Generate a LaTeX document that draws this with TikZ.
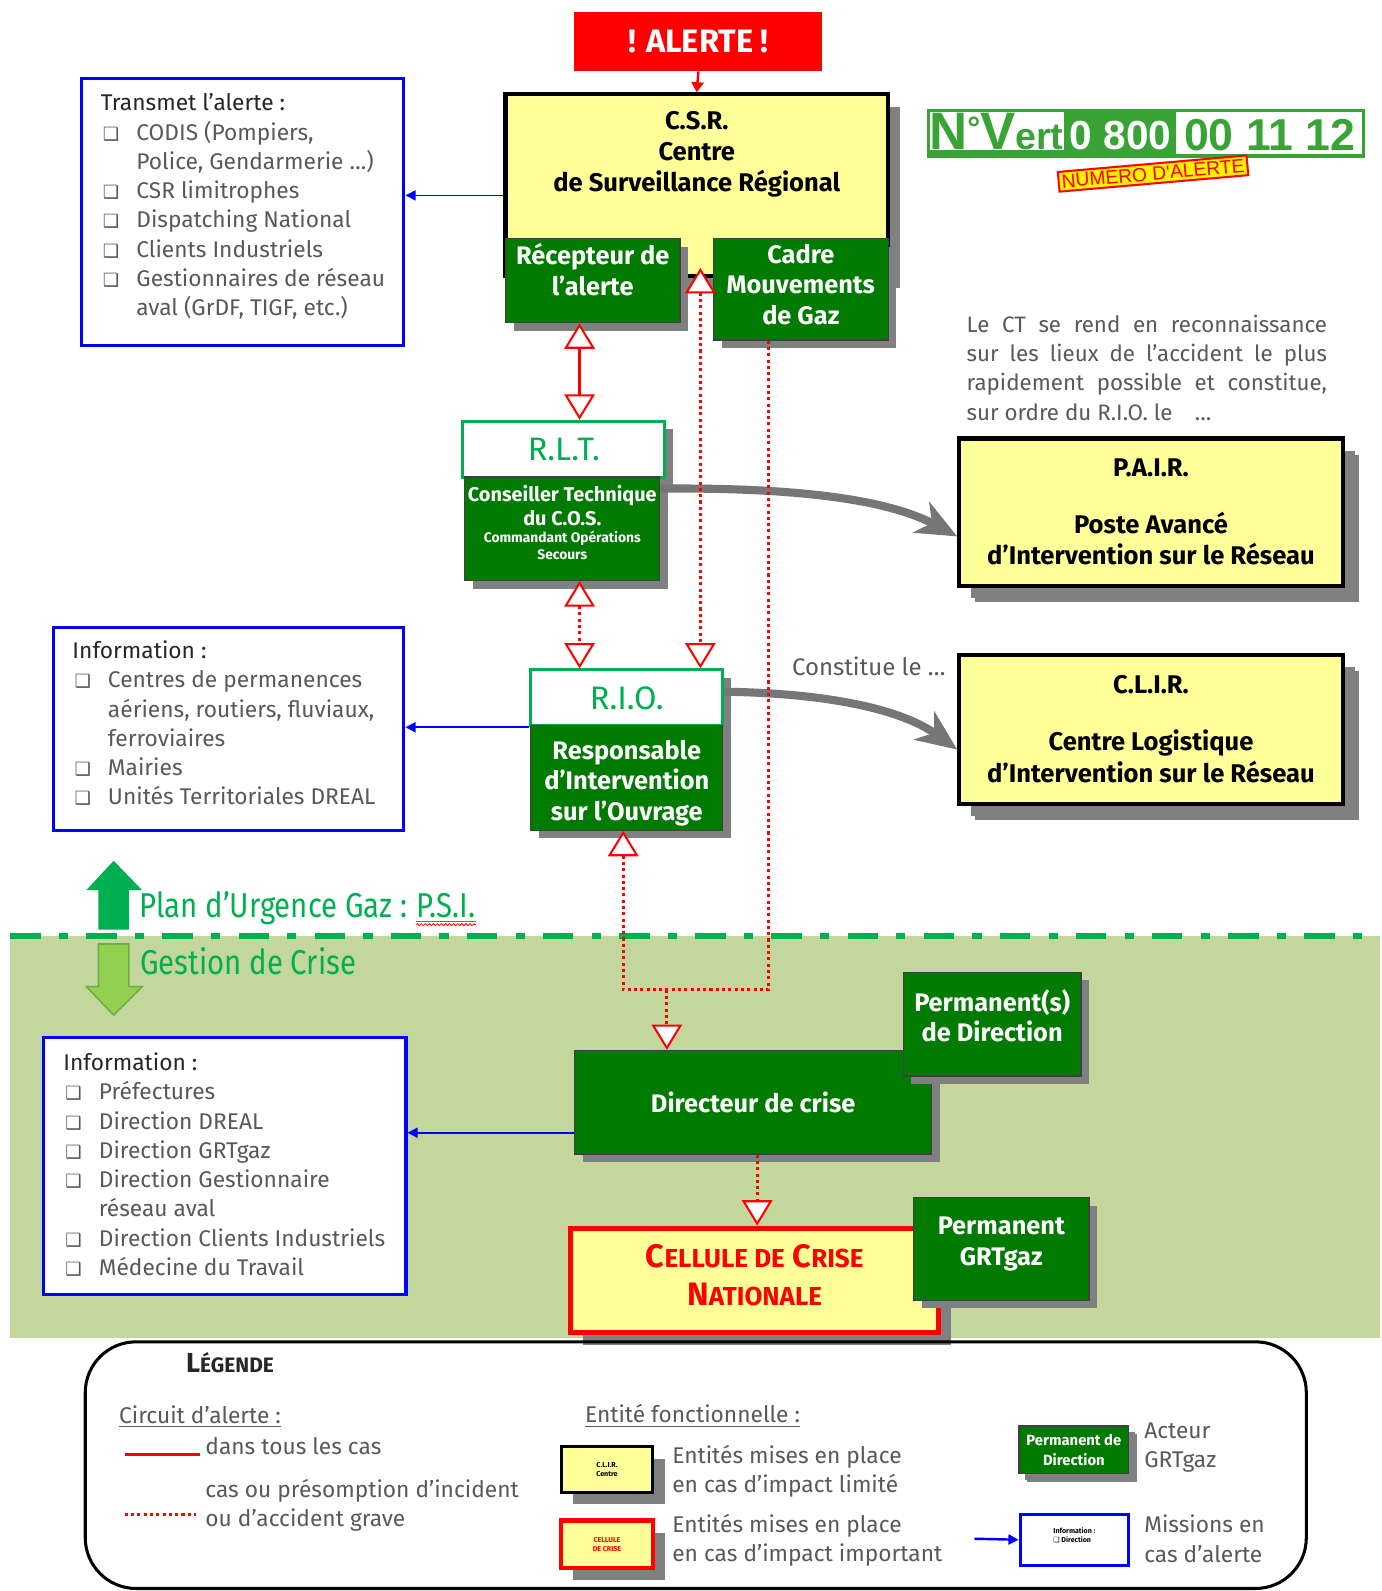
\documentclass[tikz,border=0pt]{standalone}
\usepackage{fontspec}
\setmainfont{Fira Sans}
\newfontfamily\vertfont{Liberation Sans}
\newfontfamily\symfont{DejaVu Sans}
\newfontfamily\condfont{Fira Sans}[FakeStretch=0.85]
\usetikzlibrary{arrows.meta,shadows,decorations.pathmorphing}

\definecolor{alertred}{RGB}{255,0,0}
\definecolor{boxyellow}{RGB}{255,255,153}
\definecolor{grgreen}{RGB}{0,122,0}
\definecolor{rltgreen}{RGB}{0,176,80}
\definecolor{bandgreen}{RGB}{195,214,155}
\definecolor{lightarrow}{RGB}{146,208,80}
\definecolor{lightborder}{RGB}{112,173,71}
\definecolor{shadowgray}{RGB}{128,128,128}
\definecolor{arrowgray}{RGB}{118,118,118}
\definecolor{textgray}{RGB}{89,89,89}
\definecolor{titlegray}{RGB}{38,38,38}
\definecolor{vertgreen}{RGB}{58,163,53}
\definecolor{infoblue}{RGB}{0,0,255}

\newcommand{\bul}{\makebox[17.5pt][l]{\hspace{1pt}{\symfont\fontsize{9}{9}\selectfont ❑}}}
\newcommand{\ind}{\hspace*{17.5pt}}
\newcommand{\petitcap}[3]{#1{\fontsize{#3}{#3}\selectfont #2}}
\newcommand{\smalltxt}{\fontsize{6.8}{7.5}\selectfont}

\tikzset{
  shad/.style={drop shadow={shadow xshift=#1,shadow yshift=-#1,fill=shadowgray,opacity=1}},
  shad/.default=4pt,
  greenbox/.style={fill=grgreen,draw=black!75,line width=0.6pt,inner sep=1pt,shad},
  greentxt/.style={text=white,align=center,inner sep=0pt,font=\bfseries\fontsize{12.5}{15}\selectfont},
  yellowbox/.style={fill=boxyellow,draw=black,line width=2pt,align=center,inner sep=1pt,
    font=\bfseries\fontsize{12.6}{15.5}\selectfont,shad=6pt},
  redbox/.style={fill=boxyellow,draw=alertred,line width=2.5pt,text=alertred,align=center,inner sep=1pt,
    font=\bfseries\fontsize{16}{18.5}\selectfont,shad=6pt},
  rltbox/.style={fill=white,draw=rltgreen,line width=1.5pt,text=rltgreen,font=\fontsize{16}{16}\selectfont,shad},
  infobox/.style={draw=infoblue,line width=1.5pt,fill=white},
  listtxt/.style={anchor=north west,align=left,inner sep=0pt,text=textgray,font=\fontsize{11.2}{14.4}\selectfont},
  legtxt/.style={anchor=west,align=left,inner sep=0pt,text=textgray,font=\fontsize{11.2}{14.4}\selectfont},
  bluearrow/.style={draw=infoblue,line width=0.8pt,-{Triangle[length=5pt,width=5pt]}},
  redline/.style={draw=alertred,line width=1.2pt},
  reddot/.style={draw=alertred,line width=1.5pt,dash pattern=on 1.5pt off 1.6pt},
  hollow/.tip={Triangle[length=12.5pt,width=15pt,fill=white,line width=1pt]},
  grayarrow/.style={draw=arrowgray,line width=4pt,-{Stealth[length=20pt,width=17pt,inset=6pt]}},
}

\begin{document}
\begin{tikzpicture}[x=0.5pt,y=-0.5pt]
    \useasboundingbox (0,0) rectangle (1360.6,1567.5);
    \fill[white] (0,0) rectangle (1360.6,1567.5);

    % zone gestion de crise
    \fill[bandgreen] (10,922) rectangle (1360,1318);
    \draw[rltgreen,line width=3pt,dash pattern=on 15pt off 9pt on 4.5pt off 9pt] (10,922) -- (1360,922);

    \fill[rltgreen] (97,916) -- (97,877) -- (85,877) -- (112,848) -- (140,877) -- (127,877) -- (127,916) -- cycle;
    \draw[draw=lightborder,fill=lightarrow,line width=0.8pt]
        (97,930) -- (97,972) -- (85,972) -- (112,1000) -- (140,972) -- (127,972) -- (127,930) -- cycle;

    \node[anchor=west,inner sep=0pt,text=rltgreen,font=\condfont\fontsize{17}{17}\selectfont] (plan) at (137,895) {Plan d’Urgence Gaz :};
    \node[anchor=base west,inner sep=0pt,text=rltgreen,font=\condfont\fontsize{17}{17}\selectfont] (psi) at ([xshift=4pt]plan.base east) {\underline{P.S.I.}};
    \draw[alertred,line width=0.4pt,decorate,decoration={snake,amplitude=0.5pt,segment length=2pt}]
        ([yshift=-1pt]psi.south west) -- ([yshift=-1pt]psi.south east);
    \node[anchor=west,inner sep=0pt,text=rltgreen,font=\condfont\fontsize{17}{17}\selectfont] (gestion) at (138,947) {Gestion de Crise};

    % N vert
    \fill[vertgreen] (913,107) rectangle (1345,156);
    \fill[white] (916,110) rectangle (1048,148);
    \fill[white] (1159,110) rectangle (1342,152);
    \node[anchor=base west,inner sep=0pt,text=vertgreen,font=\vertfont\bfseries] (nvert) at (915,147)
        {\fontsize{26}{26}\selectfont N\raisebox{5pt}{\fontsize{16}{16}\selectfont °}V\fontsize{18.5}{18.5}\selectfont ert};
    \node[anchor=base,inner sep=0pt,text=white,font=\vertfont\bfseries\fontsize{20}{20}\selectfont] (num800) at (1104,147) {0 800};
    \node[anchor=base,inner sep=0pt,text=vertgreen,font=\vertfont\bfseries\fontsize{22}{22}\selectfont] (num111) at (1251,148) {00 11 12};
    \node[draw=alertred,fill=yellow,line width=1pt,rotate=5,inner sep=1.5pt,text=alertred,
        font=\vertfont\fontsize{9.5}{9.5}\selectfont] (numalerte) at (1136,171) {NUMERO D'ALERTE};

    % alerte et C.S.R.
    \node[fill=alertred,minimum width=122pt,minimum height=29pt,text=white,
        font=\bfseries\fontsize{16}{16}\selectfont] (alerte) at (688,41) {! ALERTE !};
    \node[yellowbox,minimum width=188.5pt,minimum height=89.5pt] (csr) at (686.5,182.5) {};
    \node[align=center,font=\bfseries\fontsize{12.6}{15.5}\selectfont] (csrtxt) at (686.5,152) {C.S.R.\\Centre\\de Surveillance Régional};
    \node[greenbox,minimum width=86pt,minimum height=41.5pt] (recept) at (584,276.5) {};
    \node[greentxt] (recepttxt) at ([yshift=5.5pt]recept.center) {Récepteur de\\l’alerte};
    \node[greenbox,minimum width=86pt,minimum height=50pt] (cadre) at (789,285) {};
    \node[greentxt] (cadretxt) at ([yshift=2.5pt]cadre.center) {Cadre\\Mouvements\\de Gaz};

    % R.L.T. et R.I.O.
    \node[rltbox,minimum width=99.5pt,minimum height=27.5pt] (rlt) at (555.5,442.5) {R.L.T.};
    \node[greenbox,minimum width=96pt,minimum height=51pt] (ct) at (554,521) {};
    \node[greentxt,font=\bfseries\fontsize{9.8}{11.5}\selectfont] (cttxt) at ([yshift=3pt]ct.center)
        {Conseiller Technique\\du C.O.S.\\[-3pt]\smalltxt Commandant Opérations\\[-3pt]\smalltxt Secours};
    \node[rltbox,minimum width=94.5pt,minimum height=27.5pt] (rio) at (617.5,687.5) {R.I.O.};
    \node[greenbox,minimum width=94.5pt,minimum height=51.5pt] (rioresp) at (617.5,766.5) {};
    \node[greentxt] (riotxt) at ([yshift=-2.5pt]rioresp.center) {Responsable\\d’Intervention\\sur l’Ouvrage};

    % P.A.I.R. et C.L.I.R.
    \node[anchor=north west,text width=177.5pt,align=justify,inner sep=0pt,text=textgray,
        font=\fontsize{11}{14.4}\selectfont] (ctnote) at (952,310)
        {Le CT se rend en reconnaissance\linebreak sur les lieux de l’accident le plus\linebreak
         rapidement possible et constitue,\linebreak sur ordre du R.I.O. le\quad …};
    \node[yellowbox,shad=8pt,minimum width=189pt,minimum height=72.5pt] (pair) at (1134,504.5)
        {P.A.I.R.\\[12.5pt]Poste Avancé\\d’Intervention sur le Réseau};
    \node[anchor=west,inner sep=0pt,text=textgray,font=\fontsize{11.8}{14.4}\selectfont] (constitue) at (780,656) {Constitue le …};
    \node[yellowbox,shad=8pt,minimum width=189pt,minimum height=73.5pt] (clir) at (1134,718.5)
        {C.L.I.R.\\[12.5pt]Centre Logistique\\d’Intervention sur le Réseau};

    % gestion de crise
    \node[greenbox,minimum width=176pt,minimum height=51pt] (dir) at (742,1086) {};
    \node[greentxt] (dirtxt) at (dir.center) {Directeur de crise};
    \node[greenbox,minimum width=87.5pt,minimum height=51pt] (permdir) at (977.5,1009) {};
    \node[greentxt] (permdirtxt) at ([yshift=4pt]permdir.center) {Permanent(s)\\de Direction};
    \node[redbox,minimum width=181.5pt,minimum height=51.5pt] (cellule) at (743.5,1261.5) {};
    \node[align=center,inner sep=0pt,text=alertred,font=\bfseries\fontsize{16}{18.5}\selectfont] (celltxt)
        at ([yshift=2.5pt]cellule.center)
        {\petitcap{C}{ELLULE DE}{12.8} \petitcap{C}{RISE}{12.8}\\\petitcap{N}{ATIONALE}{12.8}};
    \node[greenbox,minimum width=86.5pt,minimum height=50.5pt] (permgrt) at (986.5,1230.5) {};
    \node[greentxt] (permgrttxt) at ([yshift=2.5pt]permgrt.center) {Permanent\\GRTgaz};

    % missions
    \node[infobox,minimum width=159pt,minimum height=131.5pt] (transmet) at (239,208.5) {};
    \node[listtxt] (transmettxt) at (99,92) {{\color{titlegray}Transmet l’alerte :}\\
        \bul CODIS (Pompiers,\\\ind Police, Gendarmerie …)\\\bul CSR limitrophes\\\bul Dispatching National\\
        \bul Clients Industriels\\\bul Gestionnaires de réseau\\\ind aval (GrDF, TIGF, etc.)};
    \node[infobox,minimum width=172.5pt,minimum height=100pt] (info1) at (225.5,718) {};
    \node[listtxt] (info1txt) at (71,631) {{\color{titlegray}Information :}\\
        \bul Centres de permanences\\\ind aériens, routiers, fluviaux,\\\ind ferroviaires\\\bul Mairies\\
        \bul Unités Territoriales DREAL};
    \node[infobox,minimum width=178.5pt,minimum height=126.5pt] (info2) at (221.5,1148.5) {};
    \node[listtxt] (info2txt) at (62,1037) {{\color{titlegray}Information :}\\
        \bul Préfectures\\\bul Direction DREAL\\\bul Direction GRTgaz\\\bul Direction Gestionnaire\\\ind réseau aval\\
        \bul Direction Clients Industriels\\\bul Médecine du Travail};

    \draw[bluearrow] ([yshift=-5pt]csr.west) -- ([yshift=-5pt]csr.west -| transmet.east);
    \draw[bluearrow] (rio.south west) -- (rio.south west -| info1.east);
    \draw[bluearrow] ([yshift=-15pt]dir.west) -- ([yshift=-15pt]dir.west -| info2.east);

    % circuit d'alerte
    \draw[grayarrow] ([yshift=-6pt]ct.north east) .. controls (800,480) and (880,495) .. ([yshift=-12pt]pair.west);
    \draw[grayarrow] ([yshift=3pt]rio.east) .. controls (820,683) and (890,700) .. ([yshift=-10pt]clir.west);

    \draw[redline,-{Triangle[length=5pt,width=6pt]}] (alerte.south) -- (csr.north);
    \draw[redline,{hollow}-{hollow}] ([xshift=-6.5pt]recept.south) -- ([xshift=-6.5pt]recept.south |- rlt.north);
    \draw[reddot,{hollow}-{hollow}] ([xshift=8.5pt]ct.south) -- ([xshift=8.5pt]ct.south |- rio.north);
    \draw[reddot,{hollow}-{hollow},shorten <=-5pt] ([xshift=1.75pt]csr.south) -- ([xshift=1.75pt]csr.south |- rio.north);
    \coordinate (loopw) at (614,975);
    \coordinate (loopm) at (657,975);
    \draw[reddot,-{hollow}] ([xshift=-16pt]cadre.south) |- (loopw) -- (loopw |- rioresp.south);
    \draw[reddot,-{hollow}] (loopm) -- (loopm |- dir.north);
    \draw[reddot,-{hollow}] ([xshift=2pt]dir.south) -- ([xshift=2pt]dir.south |- cellule.north);

    % legende
    \draw[line width=1.5pt,rounded corners=25pt] (84,1322) rectangle (1287,1565);
    \node[anchor=west,inner sep=0pt,text=titlegray,font=\bfseries\fontsize{13.5}{13.5}\selectfont] (legtitre) at (183,1343)
        {\petitcap{L}{ÉGENDE}{10.3}};
    \node[legtxt] (circuit) at (117,1396) {\underline{Circuit d’alerte :}};
    \coordinate (redA) at (123,1433);
    \coordinate (redB) at (197,1433);
    \draw[redline,line width=1.5pt] (redA) -- (redB);
    \node[legtxt] (tous) at (202,1425) {dans tous les cas};
    \coordinate (dotA) at (123,1492);
    \coordinate (dotB) at (193,1492);
    \draw[reddot] (dotA) -- (dotB);
    \node[legtxt] (grave) at (202,1483) {cas ou présomption d’incident\\ou d’accident grave};
    \node[legtxt] (entite) at (576,1395) {\underline{Entité fonctionnelle :}};
    \node[yellowbox,line width=1.5pt,minimum width=45pt,minimum height=22.5pt,
        font=\bfseries\fontsize{3.5}{4.5}\selectfont] (legclir) at (598,1447.5) {C.L.I.R.\\Centre};
    \node[legtxt] (limite) at (662,1449.5) {Entités mises en place\\en cas d’impact limité};
    \node[redbox,line width=2pt,minimum width=45pt,minimum height=23.5pt,
        font=\bfseries\fontsize{3.5}{4.5}\selectfont] (legcell) at (598,1521.5) {CELLULE\\DE CRISE};
    \node[legtxt] (important) at (662,1517.5) {Entités mises en place\\en cas d’impact important};
    \node[greenbox,shad=3pt,minimum width=54pt,minimum height=23.5pt,text=white,align=center,
        font=\bfseries\fontsize{7.3}{9.5}\selectfont] (legacteur) at (1058,1428.5) {Permanent de\\Direction};
    \node[legtxt] (acteur) at (1127,1426) {Acteur\\GRTgaz};
    \node[infobox,minimum width=53.5pt,minimum height=25pt,align=left,
        font=\bfseries\fontsize{3.5}{4.5}\selectfont] (legmission) at (1058.5,1517) {Information :\\{\symfont ❑} Direction\\\phantom{x}};
    \coordinate (missionA) at (960,1516);
    \draw[bluearrow,line width=1.2pt] (missionA) -- (legmission.west);
    \node[legtxt] (mission) at (1127,1516) {Missions en\\cas d’alerte};
\end{tikzpicture}
\end{document}
